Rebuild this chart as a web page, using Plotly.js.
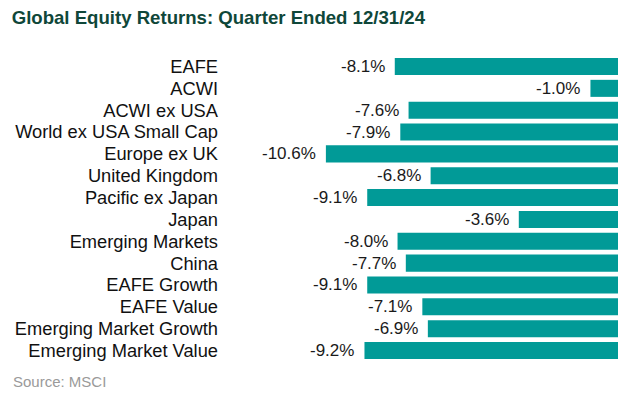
<!DOCTYPE html>
<html>
<head>
<meta charset="utf-8">
<script src="https://cdn.plot.ly/plotly-3.0.1.min.js"></script>
<style>html,body{margin:0;padding:0;background:#fff;}#chart{width:629px;height:396px;}</style>
</head>
<body>
<div id="chart"></div>
<script>
const categories = ["EAFE","ACWI","ACWI ex USA","World ex USA Small Cap","Europe ex UK","United Kingdom","Pacific ex Japan","Japan","Emerging Markets","China","EAFE Growth","EAFE Value","Emerging Market Growth","Emerging Market Value"];
const returns = [-8.1,-1.0,-7.6,-7.9,-10.6,-6.8,-9.1,-3.6,-8.0,-7.7,-9.1,-7.1,-6.9,-9.2];
const valueLabels = returns.map(v => v.toFixed(1) + "%");

const FONT = "Liberation Sans, Arial, sans-serif";

const trace = {
  type: "bar",
  orientation: "h",
  x: returns,
  y: categories,
  marker: {color: "#019a97"},
  hoverinfo: "none"
};

const annotations = returns.map((v, i) => ({
  x: v, y: categories[i], xref: "x", yref: "y",
  text: valueLabels[i], showarrow: false,
  xanchor: "right", yanchor: "middle", xshift: -8,
  font: {family: FONT, size: 17, color: "#1a1a1a"}
}));
annotations.push({
  xref: "paper", yref: "paper", x: -0.533, y: -0.063,
  xanchor: "left", yanchor: "middle", showarrow: false,
  text: "Source: MSCI",
  font: {family: FONT, size: 15, color: "#9a9a9a"}
});

const layout = {
  width: 629, height: 396,
  margin: {l: 222, r: 11, t: 55, b: 34.4},
  paper_bgcolor: "#fff", plot_bgcolor: "#fff",
  bargap: 0.22,
  showlegend: false,
  title: {
    text: "<b>Global Equity Returns: Quarter Ended 12/31/24</b>",
    x: 0.0186, xanchor: "left", xref: "container",
    y: 0.957, yanchor: "middle", yref: "container",
    font: {family: FONT, size: 18.6, color: "#0f4739"}
  },
  xaxis: {range: [-14.37, 0], visible: false, fixedrange: true},
  yaxis: {
    autorange: "reversed", type: "category",
    tickmode: "array", tickvals: categories, ticktext: categories,
    showgrid: false, zeroline: false, showline: false, ticks: "",
    ticklabelstandoff: 3,
    tickfont: {family: FONT, size: 18.3, color: "#111"}
  },
  annotations: annotations
};

Plotly.newPlot("chart", [trace], layout, {displayModeBar: false, staticPlot: true});
</script>
</body>
</html>
